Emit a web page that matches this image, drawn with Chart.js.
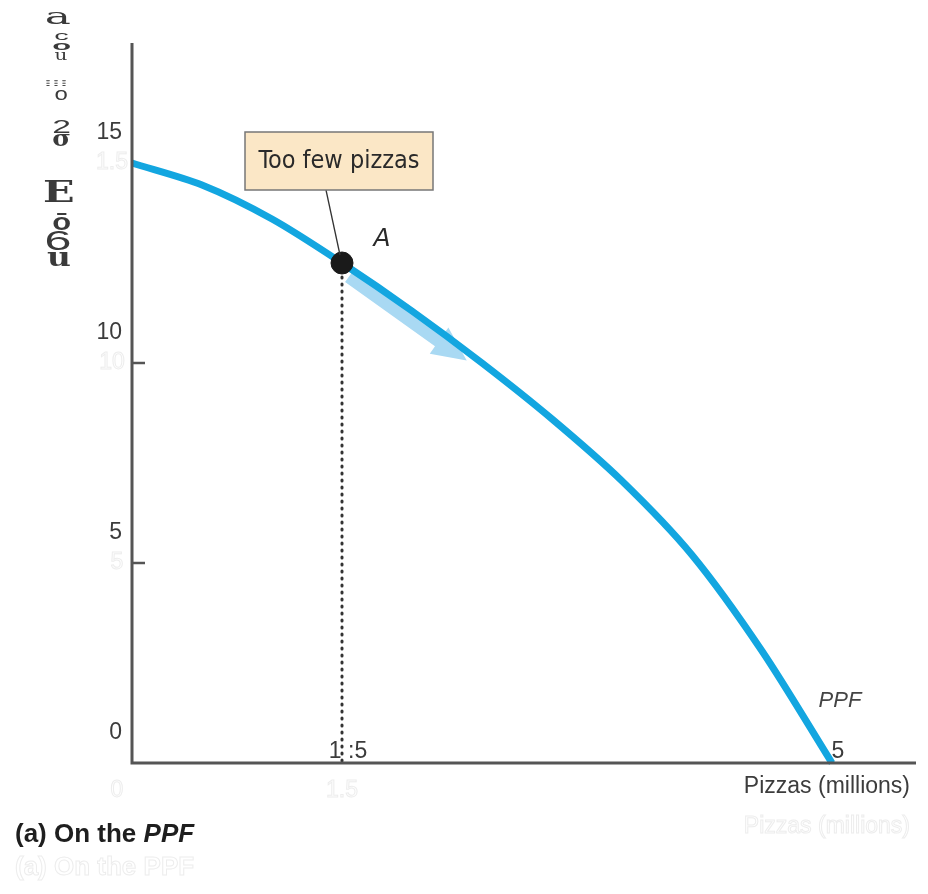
<!DOCTYPE html>
<html>
<head>
<meta charset="utf-8">
<script src="https://cdn.jsdelivr.net/npm/chart.js@4.4.1/dist/chart.umd.min.js"></script>
<style>
  html, body { margin: 0; padding: 0; background: #fff; }
  canvas { display: block; }
</style>
</head>
<body>
<canvas id="ppfChart" width="928" height="894"></canvas>
<script>
// production possibilities frontier
const pizzas = [0, 0.5, 1, 1.5, 2, 2.5, 3, 3.5, 4, 4.5, 5];
const games = [15, 14.45, 13.6, 12.5, 11.3, 10.0, 8.6, 7.05, 5.2, 2.8, 0];

const pointA = { x: 1.5, y: 12.5 };
const arrowFromX = 1.58;
const arrowToX = 2.42;

const yTickValues = [5, 10];
const yTickLabels = ["15", "10", "5", "0"];
const yTickLabelValues = [15, 10, 5, 0];
const xTickLabels = ["1 :5", "5"];
const xTickLabelValues = [1.5, 5];

// broken-up vertical label left of the y axis: glyph, top, bottom, left, right, font
const SERIF = '"DejaVu Serif", serif';
const SANS = '"Liberation Sans", Arial, sans-serif';
const yAxisGlyphs = [
  ["a", 13, 25, 47, 70, SERIF],
  ["c", 33, 40, 55, 68, SANS],
  ["o", 43, 50, 53, 70, "bold " + SANS],
  ["u", 52, 60, 55, 67, SERIF],
  ["\u205D\u205D\u205D", 80, 86, 45, 66, SANS],
  ["o", 90, 100, 55, 67, SANS],
  ["2", 120, 133, 54, 70, SANS],
  ["\u03C3", 135, 147, 53, 70, "bold " + SERIF],
  ["E", 180, 202, 44, 73, "bold " + SERIF],
  ["\u014D", 213, 230, 53, 70, "bold " + SANS],
  ["6", 230, 250, 47, 70, SANS],
  ["u", 253, 267, 47, 70, "bold " + SERIF],
];

function curveAt(x) {
  for (let i = 0; i < pizzas.length - 1; i++) {
    if (x >= pizzas[i] && x <= pizzas[i + 1]) {
      const t = (x - pizzas[i]) / (pizzas[i + 1] - pizzas[i]);
      return games[i] + t * (games[i + 1] - games[i]);
    }
  }
  return 0;
}

// stretch a glyph so its ink fills the given box
function fitGlyph(ctx, text, top, bottom, left, right, font) {
  ctx.font = font.startsWith("bold ") ? "bold 40px " + font.slice(5) : "40px " + font;
  const m = ctx.measureText(text);
  const inkW = m.actualBoundingBoxLeft + m.actualBoundingBoxRight;
  const inkH = m.actualBoundingBoxAscent + m.actualBoundingBoxDescent;
  ctx.save();
  ctx.translate(left, top);
  ctx.scale((right - left) / inkW, (bottom - top) / inkH);
  ctx.textAlign = "left";
  ctx.textBaseline = "alphabetic";
  ctx.fillText(text, m.actualBoundingBoxLeft, m.actualBoundingBoxAscent);
  ctx.restore();
}

const arrowPlugin = {
  id: "arrow",
  beforeDatasetsDraw(chart) {
    const { ctx, scales: { x, y } } = chart;
    const x0 = x.getPixelForValue(arrowFromX), y0 = y.getPixelForValue(curveAt(arrowFromX));
    const x1 = x.getPixelForValue(arrowToX), y1 = y.getPixelForValue(curveAt(arrowToX));
    const ang = Math.atan2(y1 - y0, x1 - x0);
    const len = Math.hypot(x1 - x0, y1 - y0);
    ctx.save();
    ctx.translate(x0, y0);
    ctx.rotate(ang);
    ctx.translate(0, 7);
    ctx.fillStyle = "#a9d9f3";
    ctx.beginPath();
    ctx.moveTo(0, -7);
    ctx.lineTo(len - 34, -7);
    ctx.lineTo(len - 34, -16);
    ctx.lineTo(len, 0);
    ctx.lineTo(len - 34, 16);
    ctx.lineTo(len - 34, 7);
    ctx.lineTo(0, 7);
    ctx.closePath();
    ctx.fill();
    ctx.restore();
  }
};

const decorPlugin = {
  id: "decor",
  afterDraw(chart) {
    const { ctx, chartArea: a, scales: { x, y } } = chart;
    ctx.save();

    // faint leftover labels
    ctx.strokeStyle = "#ededed";
    ctx.lineWidth = 1;
    ctx.font = "23px " + SANS;
    ctx.textAlign = "center";
    ctx.textBaseline = "middle";
    ctx.strokeText("1.5", 112, y.getPixelForValue(15));
    ctx.strokeText("10", 112, y.getPixelForValue(10));
    ctx.strokeText("5", 117, y.getPixelForValue(5));
    ctx.strokeText("0", 117, a.bottom + 28);
    ctx.strokeText("1.5", x.getPixelForValue(1.5), a.bottom + 28);
    ctx.textAlign = "right";
    ctx.strokeText("Pizzas (millions)", 910, a.bottom + 64);
    ctx.textAlign = "left";
    ctx.font = "bold 26px " + SANS;
    ctx.strokeText("(a) On the PPF", 15, 868);

    // axes
    ctx.strokeStyle = "#555";
    ctx.lineWidth = 3;
    ctx.beginPath();
    ctx.moveTo(a.left, a.top);
    ctx.lineTo(a.left, a.bottom);
    ctx.lineTo(a.right, a.bottom);
    ctx.stroke();
    ctx.lineWidth = 2.5;
    yTickValues.forEach(v => {
      const py = y.getPixelForValue(v);
      ctx.beginPath();
      ctx.moveTo(a.left, py);
      ctx.lineTo(a.left + 13, py);
      ctx.stroke();
    });

    // tick labels
    ctx.fillStyle = "#3c3c3c";
    ctx.font = "23px " + SANS;
    ctx.textAlign = "right";
    ctx.textBaseline = "alphabetic";
    yTickLabelValues.forEach((v, i) => {
      ctx.fillText(yTickLabels[i], a.left - 10, y.getPixelForValue(v) - 24);
    });
    ctx.textAlign = "center";
    xTickLabelValues.forEach((v, i) => {
      ctx.fillText(xTickLabels[i], x.getPixelForValue(v) + 6, a.bottom - 5);
    });

    // axis titles
    ctx.textAlign = "right";
    ctx.fillText("Pizzas (millions)", 910, a.bottom + 30);
    ctx.textAlign = "left";
    ctx.fillStyle = "#1e1e1e";
    ctx.font = "bold 26px " + SANS;
    ctx.fillText("(a) On the ", 15, 842);
    const w = ctx.measureText("(a) On the ").width;
    ctx.font = "italic bold 26px " + SANS;
    ctx.fillText("PPF", 15 + w, 842);

    // vertical label glyphs
    ctx.fillStyle = "#3a3a3a";
    yAxisGlyphs.forEach(g => fitGlyph(ctx, g[0], g[1], g[2], g[3], g[4], g[5]));

    // PPF label
    ctx.fillStyle = "#444";
    ctx.font = "italic 22px " + SANS;
    ctx.textAlign = "center";
    ctx.textBaseline = "alphabetic";
    ctx.fillText("PPF", 840, y.getPixelForValue(1.4));

    // callout
    const pax = x.getPixelForValue(pointA.x), pay = y.getPixelForValue(pointA.y);
    ctx.strokeStyle = "#333";
    ctx.lineWidth = 1.3;
    ctx.beginPath();
    ctx.moveTo(326, 190);
    ctx.lineTo(pax - 2, pay - 8);
    ctx.stroke();
    ctx.fillStyle = "#fbe7c6";
    ctx.strokeStyle = "#777";
    ctx.lineWidth = 1.5;
    ctx.fillRect(245, 132, 188, 58);
    ctx.strokeRect(245, 132, 188, 58);
    ctx.fillStyle = "#2a2a2a";
    ctx.font = '25px "DejaVu Sans Condensed", "DejaVu Sans", sans-serif';
    ctx.textBaseline = "middle";
    ctx.fillText("Too few pizzas", 339, 161);
    ctx.font = 'italic 25px "DejaVu Sans", sans-serif';
    ctx.fillText("A", pax + 40, pay - 24);
    ctx.restore();
  }
};

new Chart(document.getElementById("ppfChart").getContext("2d"), {
  type: "scatter",
  data: {
    datasets: [
      {
        data: pizzas.map((p, i) => ({ x: p, y: games[i] })),
        showLine: true,
        borderColor: "#13a6e0",
        borderWidth: 7,
        pointRadius: 0,
        tension: 0.3,
        order: 3,
      },
      {
        data: [{ x: pointA.x, y: pointA.y }, { x: pointA.x, y: 0 }],
        showLine: true,
        borderColor: "#333",
        borderWidth: 3,
        borderDash: [1, 6],
        borderCapStyle: "round",
        pointRadius: 0,
        order: 2,
      },
      {
        data: [pointA],
        pointRadius: 11,
        pointBackgroundColor: "#1a1a1a",
        pointBorderColor: "#1a1a1a",
        order: 1,
      },
    ],
  },
  options: {
    responsive: false,
    animation: false,
    clip: false,
    layout: { padding: { left: 132, right: 12, top: 43, bottom: 131 } },
    plugins: { legend: { display: false }, tooltip: { enabled: false } },
    scales: {
      x: { type: "linear", min: 0, max: 5.6, display: false },
      y: { type: "linear", min: 0, max: 18, display: false },
    },
  },
  plugins: [arrowPlugin, decorPlugin],
});
</script>
</body>
</html>
